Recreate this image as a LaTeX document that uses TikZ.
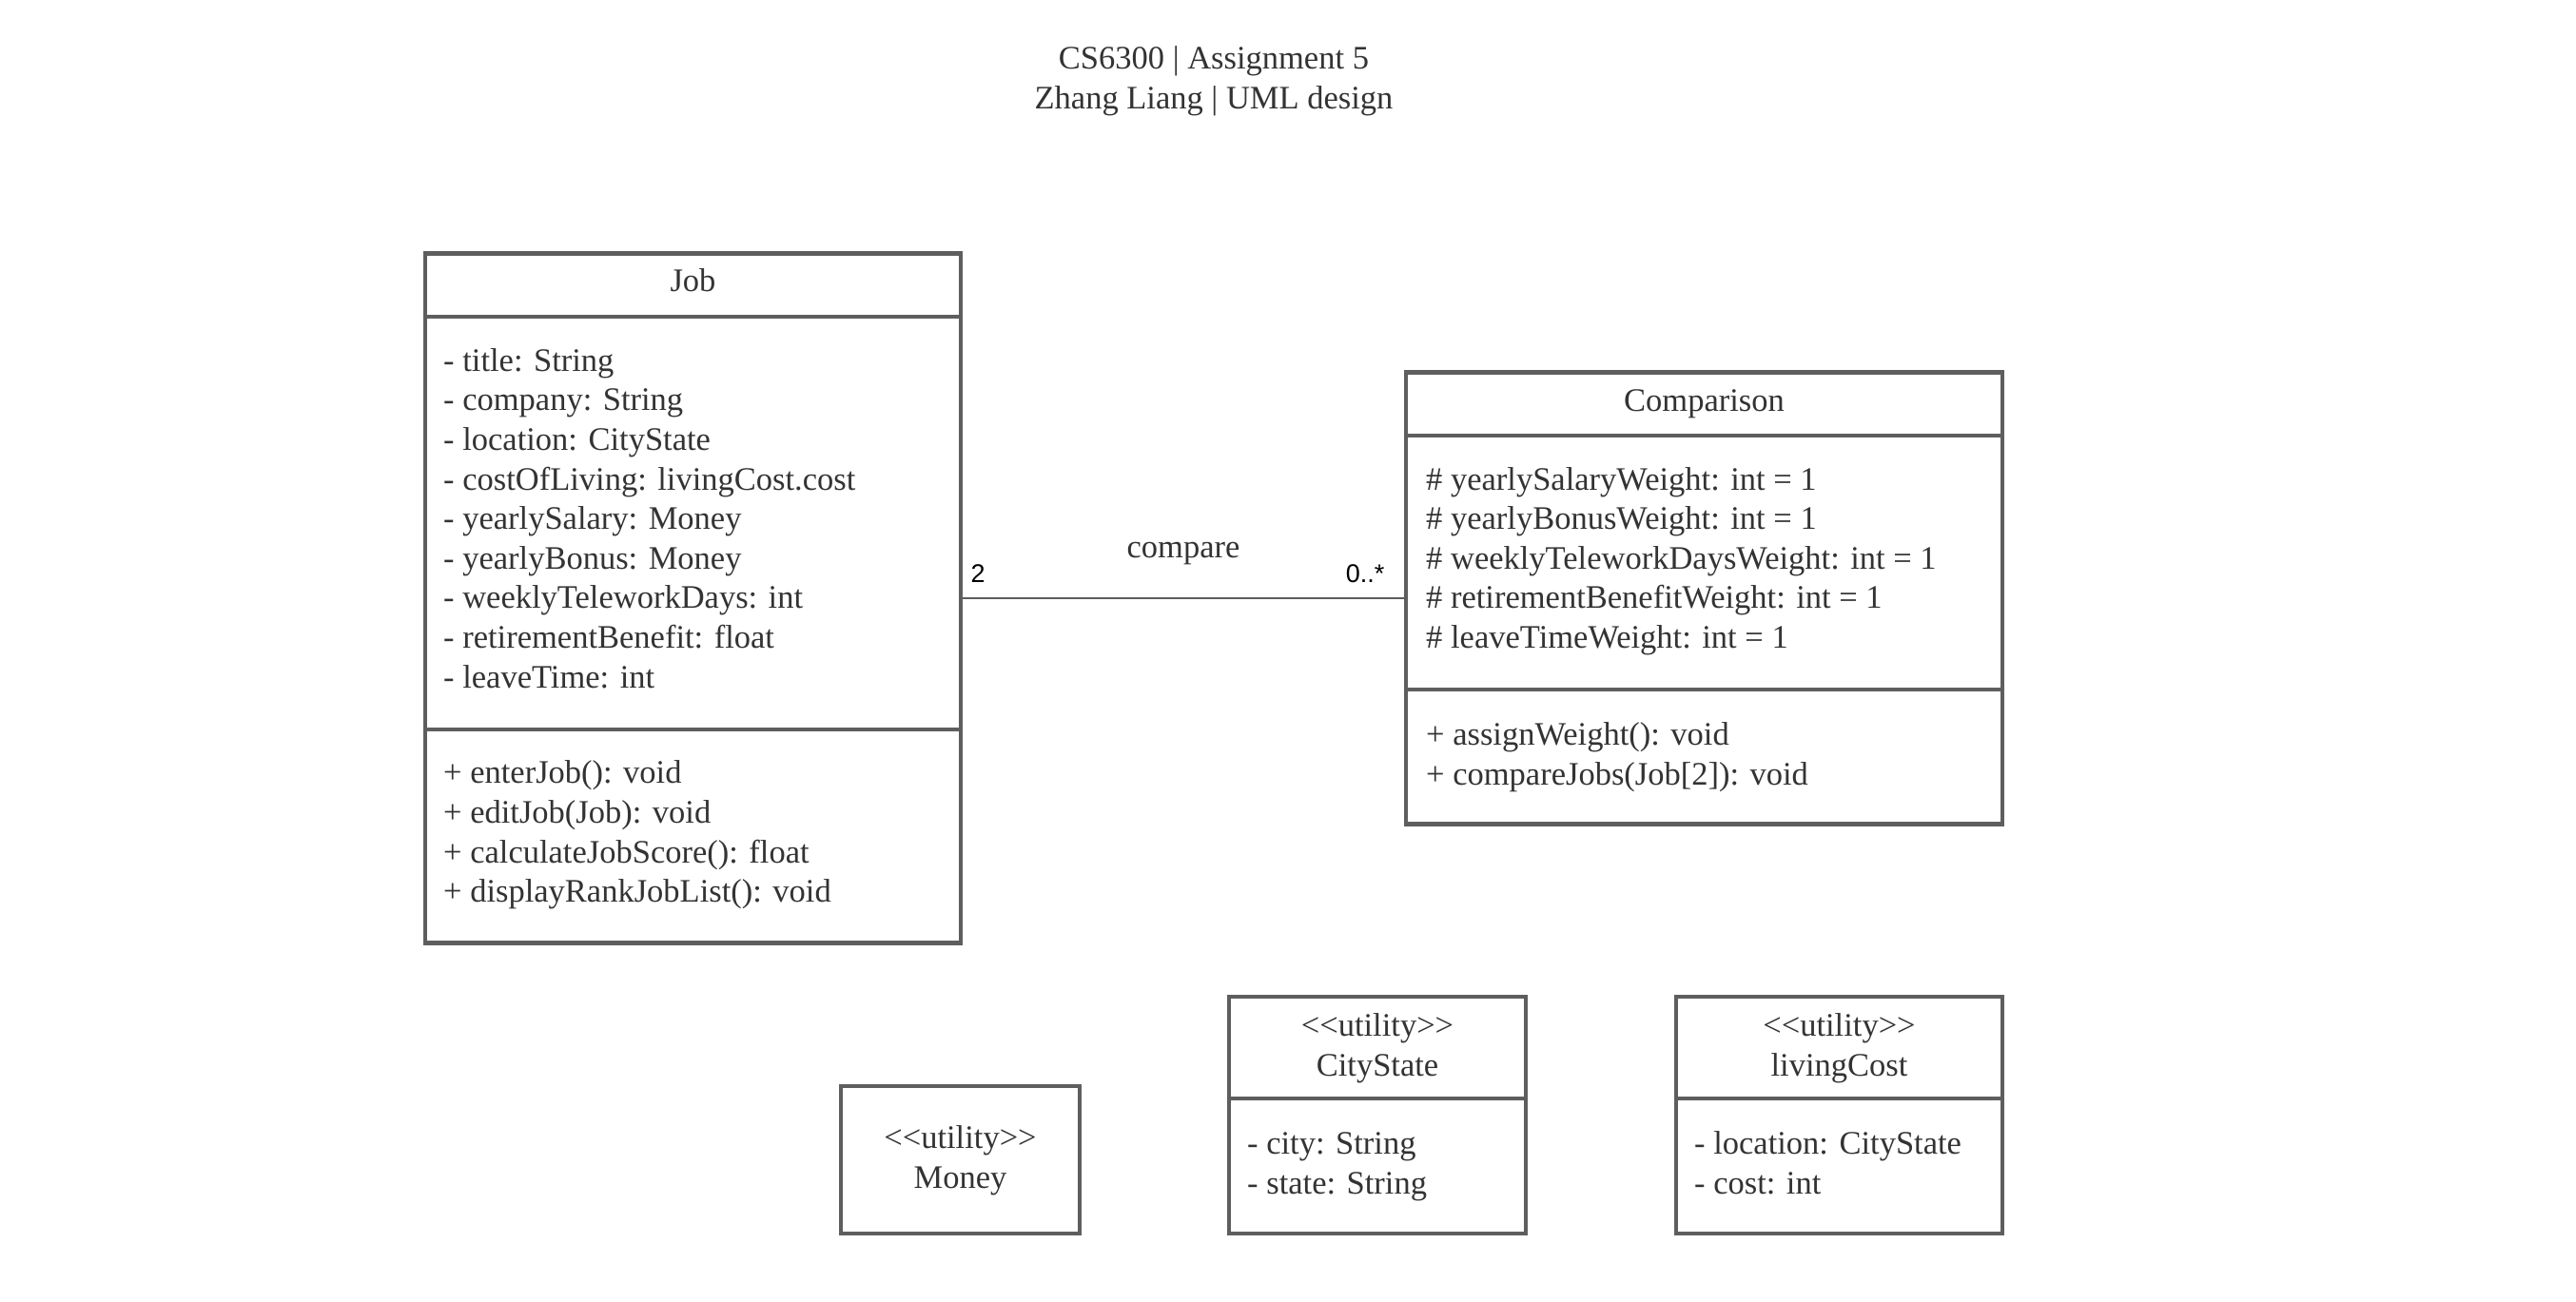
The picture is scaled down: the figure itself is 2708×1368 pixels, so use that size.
\documentclass[tikz,border=0pt]{standalone}
\usepackage{fontspec}
\setmainfont{Liberation Serif}
\newfontfamily\multfont{Liberation Sans}
\usetikzlibrary{positioning}

\definecolor{umlline}{HTML}{5E5E5E}
\definecolor{umltext}{HTML}{333333}

\newcommand{\stereo}[1]{<\kern0pt<#1>\kern0pt>}

\tikzset{
  classbox/.style={draw=umlline, line width=4.5pt, inner sep=0pt},
  divider/.style={draw=umlline, line width=4.5pt},
  member/.style={anchor=west, inner sep=0pt, align=left, text=umltext,
    font=\fontsize{34.5}{41.6}\selectfont},
  heading/.style={inner sep=0pt, align=center, text=umltext,
    font=\fontsize{34.5}{41.6}\selectfont},
  mult/.style={inner sep=0pt, font=\multfont\fontsize{27}{30}\selectfont}
}

\begin{document}
\begin{tikzpicture}[x=1pt, y=-1pt]
    \useasboundingbox (0,0) rectangle (2708,1368);

    \node [heading] (title) at (1276,85) {CS6300 | Assignment 5\\Zhang Liang | UML design};

    % Job
    \node [classbox, minimum width=563pt, minimum height=725pt] (job) at (728.5,629) {};
    \draw [divider] (job.west |- 0,333) -- (job.east |- 0,333);
    \draw [divider] (job.west |- 0,767) -- (job.east |- 0,767);
    \node [heading] (jobname) at (728.5,295) {Job};
    \node [member] (jobattr) at (466,545) {- title: String\\- company: String\\- location: CityState\\- costOfLiving: livingCost.cost\\- yearlySalary: Money\\- yearlyBonus: Money\\- weeklyTeleworkDays: int\\- retirementBenefit: float\\- leaveTime: int};
    \node [member] (jobops) at (466,878) {+ enterJob(): void\\+ editJob(Job): void\\+ calculateJobScore(): float\\+ displayRankJobList(): void};

    % Comparison
    \node [classbox, minimum width=627pt, minimum height=475pt] (comp) at (1791.5,629) {};
    \draw [divider] (comp.west |- 0,458) -- (comp.east |- 0,458);
    \draw [divider] (comp.west |- 0,725) -- (comp.east |- 0,725);
    \node [heading] (compname) at (1791.5,425) {Comparison};
    \node [member] (compattr) at (1499,590) {\# yearlySalaryWeight: int = 1\\\# yearlyBonusWeight: int = 1\\\# weeklyTeleworkDaysWeight: int = 1\\\# retirementBenefitWeight: int = 1\\\# leaveTimeWeight: int = 1};
    \node [member] (compops) at (1499,796) {+ assignWeight(): void\\+ compareJobs(Job[2]): void};

    \draw [umlline, line width=2pt] (job) -- (comp);
    \node [heading] (assoc) at (1244,582) {compare};
    \node [mult] (multjob) at (1028,603) {2};
    \node [mult] (multcomp) at (1435,603) {0..*};

    % utilities
    \node [classbox, minimum width=251pt, minimum height=155pt] (money) at (1009.5,1219.5) {};
    \node [heading] (moneyname) at (1009.5,1220) {\stereo{utility}\\Money};

    \node [classbox, minimum width=312pt, minimum height=249pt] (city) at (1448,1172.5) {};
    \draw [divider] (city.west |- 0,1155) -- (city.east |- 0,1155);
    \node [heading] (cityname) at (1448,1102) {\stereo{utility}\\CityState};
    \node [member] (cityattr) at (1311,1227) {- city: String\\- state: String};

    \node [classbox, minimum width=343pt, minimum height=249pt] (cost) at (1933.5,1172.5) {};
    \draw [divider] (cost.west |- 0,1155) -- (cost.east |- 0,1155);
    \node [heading] (costname) at (1933.5,1102) {\stereo{utility}\\livingCost};
    \node [member] (costattr) at (1781,1223) {- location: CityState\\- cost: int};
\end{tikzpicture}
\end{document}
